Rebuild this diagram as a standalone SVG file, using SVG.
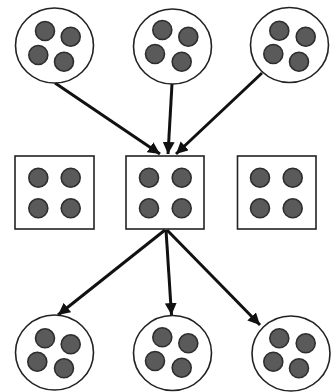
<svg xmlns="http://www.w3.org/2000/svg" width="336" height="392" viewBox="0 0 336 392">
<defs>
<style>
.c{fill:#fff;stroke:#222;stroke-width:1.6}
.b{fill:#fff;stroke:#222;stroke-width:1.6}
.d{fill:#5a5a5a;stroke:#2e2e2e;stroke-width:1.6}
.l{stroke:#111;stroke-width:3;fill:none;marker-end:url(#ah)}
</style>
<marker id="ah" markerUnits="userSpaceOnUse" markerWidth="14" markerHeight="12" refX="12" refY="6" orient="auto">
<path d="M0,0 L12,6 L0,12 Z" fill="#111"/>
</marker>
</defs>
<rect width="336" height="392" fill="#fff"/>
<g id="connectors">
<line class="l" x1="55" y1="83" x2="160" y2="154"/>
<line class="l" x1="172" y1="84" x2="168" y2="154"/>
<line class="l" x1="262" y1="73" x2="176" y2="154"/>
<line class="l" x1="165" y1="230" x2="58" y2="315"/>
<line class="l" x1="166" y1="230" x2="171.5" y2="315"/>
<line class="l" x1="167" y1="230" x2="260" y2="325"/>
</g>
<g id="top1">
<ellipse class="c" cx="54.5" cy="45.5" rx="39" ry="37.5"/>
<circle class="d" cx="45" cy="31" r="9.5"/><circle class="d" cx="70.7" cy="36.7" r="9.5"/>
<circle class="d" cx="38.3" cy="55" r="9.5"/><circle class="d" cx="64" cy="61.7" r="9.5"/>
</g>
<g id="top2">
<ellipse class="c" cx="172.5" cy="46.5" rx="39" ry="37.5"/>
<circle class="d" cx="162.3" cy="30" r="9.5"/><circle class="d" cx="188.3" cy="36.7" r="9.5"/>
<circle class="d" cx="155" cy="54" r="9.5"/><circle class="d" cx="181.7" cy="61.7" r="9.5"/>
</g>
<g id="top3">
<ellipse class="c" cx="289.5" cy="45" rx="39" ry="37.5"/>
<circle class="d" cx="279.3" cy="30.7" r="9.5"/><circle class="d" cx="305.7" cy="36.7" r="9.5"/>
<circle class="d" cx="273.3" cy="54" r="9.5"/><circle class="d" cx="299" cy="61.7" r="9.5"/>
</g>
<g id="box1">
<rect class="b" x="15" y="156" width="79" height="73"/>
<circle class="d" cx="38.3" cy="177.7" r="9.5"/><circle class="d" cx="70.7" cy="177.7" r="9.5"/>
<circle class="d" cx="38.3" cy="208.3" r="9.5"/><circle class="d" cx="70.7" cy="208.3" r="9.5"/>
</g>
<g id="box2">
<rect class="b" x="126" y="156" width="78" height="73"/>
<circle class="d" cx="149" cy="177.7" r="9.5"/><circle class="d" cx="181.7" cy="177.7" r="9.5"/>
<circle class="d" cx="149" cy="208.3" r="9.5"/><circle class="d" cx="181.7" cy="208.3" r="9.5"/>
</g>
<g id="box3">
<rect class="b" x="237.5" y="156" width="78.5" height="73"/>
<circle class="d" cx="260" cy="177.7" r="9.5"/><circle class="d" cx="292.7" cy="177.7" r="9.5"/>
<circle class="d" cx="260" cy="208.3" r="9.5"/><circle class="d" cx="292.7" cy="208.3" r="9.5"/>
</g>
<g id="bot1">
<ellipse class="c" cx="54.5" cy="352.5" rx="39" ry="37.5"/>
<circle class="d" cx="45" cy="338.3" r="9.5"/><circle class="d" cx="70.7" cy="344.3" r="9.5"/>
<circle class="d" cx="37.3" cy="361.7" r="9.5"/><circle class="d" cx="64" cy="368.3" r="9.5"/>
</g>
<g id="bot2">
<ellipse class="c" cx="172.5" cy="353" rx="39" ry="37.5"/>
<circle class="d" cx="162.3" cy="337.3" r="9.5"/><circle class="d" cx="188.3" cy="343.3" r="9.5"/>
<circle class="d" cx="155" cy="361" r="9.5"/><circle class="d" cx="181.7" cy="367.7" r="9.5"/>
</g>
<g id="bot3">
<ellipse class="c" cx="291" cy="353.5" rx="39" ry="37.5"/>
<circle class="d" cx="279.3" cy="338.3" r="9.5"/><circle class="d" cx="305.7" cy="343.3" r="9.5"/>
<circle class="d" cx="273.3" cy="361.7" r="9.5"/><circle class="d" cx="299" cy="368.3" r="9.5"/>
</g>
</svg>
